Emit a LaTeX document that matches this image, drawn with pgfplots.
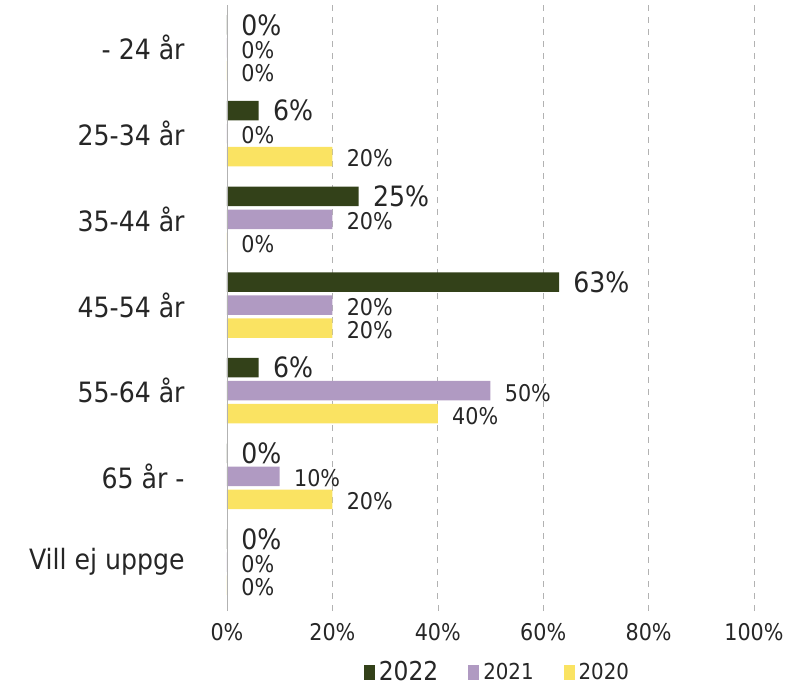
\documentclass[border=0pt]{standalone}
\usepackage{fontspec}
\setmainfont{DejaVu Sans Condensed}
\usepackage{pgfplots}
\pgfplotsset{compat=1.18}
\definecolor{c22}{HTML}{334119}
\definecolor{c21}{HTML}{B09AC2}
\definecolor{c20}{HTML}{FAE362}
\definecolor{txt}{HTML}{262626}
\begin{document}
\begin{tikzpicture}
\path[use as bounding box] (-113.5pt,-40pt) rectangle (291.5pt,302.5pt);
\begin{axis}[
  scale only axis, width=263.5pt, height=300pt,
  at={(0,0)}, anchor=south west,
  xbar, bar width=9.75pt,
  xmin=0, xmax=100, ymin=-0.5, ymax=6.5, y dir=reverse,
  xtick={0,20,...,100},
  ytick={0,...,6},
  yticklabels={- 24 år, 25-34 år, 35-44 år, 45-54 år, 55-64 år, 65 år -, Vill ej uppge},
  /pgf/number format/assume math mode=true,
  xticklabel={\pgfmathprintnumber{\tick}\%},
  xticklabel style={font=\fontsize{11.5}{12}\selectfont, text=txt, yshift=-2.5pt},
  yticklabel style={font=\fontsize{14}{15}\selectfont, text=txt, anchor=east, inner sep=0pt, xshift=-18pt},
  axis line style={draw=none},
  xmajorgrids, grid style={dashed, gray!60},
  tick pos=bottom, tick align=outside, major tick length=3pt,
  xtick style={gray!60},
  ytick style={draw=none},
  nodes near coords={\pgfmathprintnumber{\pgfplotspointmeta}\%},
  point meta=x,
  every node near coord/.append style={anchor=west, inner sep=0pt, xshift=7pt, text=txt},
  legend style={at={(0.515,-0.113)}, anchor=center, draw=none, legend columns=3,
    /tikz/every even column/.append style={column sep=13pt}, text=txt,
    font=\fontsize{11}{12}\selectfont},
  legend image code/.code={\fill[#1] (0pt,-3.75pt) rectangle (5.5pt,3.75pt);},
]
\addplot[fill=c22, draw=none, bar shift=11.5pt,
  every node near coord/.append style={font=\fontsize{14}{15}\selectfont}]
  coordinates {(0,0) (6,1) (25,2) (63,3) (6,4) (0,5) (0,6)};
\addplot[fill=c21, draw=none, bar shift=0pt,
  every node near coord/.append style={font=\fontsize{11.5}{12}\selectfont, yshift=-1pt}]
  coordinates {(0,0) (0,1) (20,2) (20,3) (50,4) (10,5) (0,6)};
\addplot[fill=c20, draw=none, bar shift=-11.5pt,
  every node near coord/.append style={font=\fontsize{11.5}{12}\selectfont, yshift=-1pt}]
  coordinates {(0,0) (20,1) (0,2) (20,3) (40,4) (20,5) (0,6)};
\draw[gray!60] (axis cs:0,-0.5) -- (axis cs:0,6.5);
\legend{{\fontsize{13}{14}\selectfont 2022}, 2021, 2020}
\end{axis}
\end{tikzpicture}
\end{document}
